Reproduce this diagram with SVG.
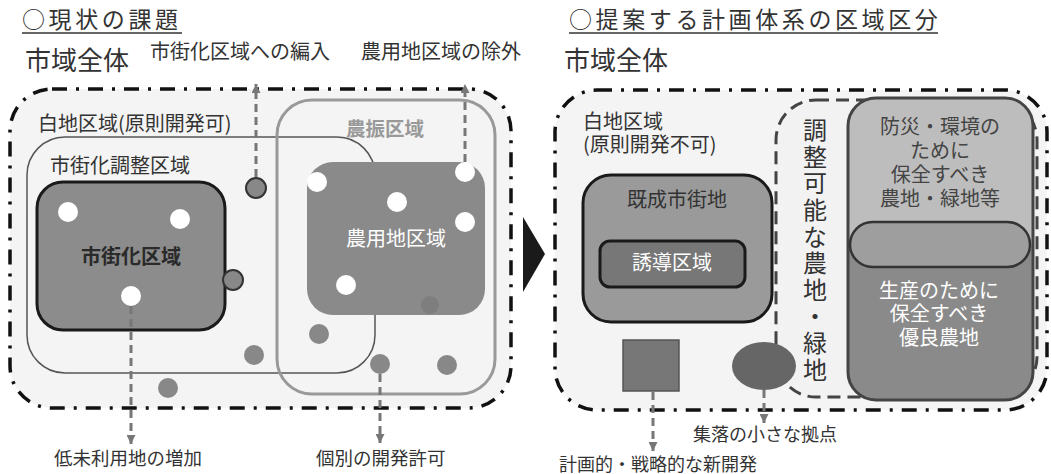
<svg xmlns="http://www.w3.org/2000/svg" width="1051" height="474" viewBox="0 0 1051 474">
<style>
text{font-family:"Noto Sans CJK JP","Noto Sans CJK SC",sans-serif;fill:#333}
.title{font-size:23px;letter-spacing:3.6px}
.big{font-size:26px}
.lbl{font-size:20px}
.sm{font-size:18.5px}
.mid{text-anchor:middle}
.wt{fill:#fff}
.outer{fill:#f4f4f4;stroke:#111;stroke-width:3.5;stroke-dasharray:15 9 3 9}
.conn{stroke:#777;stroke-width:3;stroke-dasharray:8 5;fill:none}
.wdot{fill:#fff}
.gdot{fill:#888}
.sdot{fill:#888;stroke:#333;stroke-width:2}
.ul{stroke:#333;stroke-width:1.5}
</style>
<defs>
<marker id="ah" viewBox="0 0 10 10" refX="10" refY="5" markerWidth="3.2" markerHeight="3" orient="auto" markerUnits="strokeWidth"><path d="M0,0 L10,5 L0,10 z" fill="#777"/></marker>
</defs>
<rect width="1051" height="474" fill="#fff"/>

<!-- LEFT PANEL -->
<g id="left-title"><text class="title" x="22" y="28">○現状の課題</text><line class="ul" x1="22" y1="33" x2="182" y2="33"/></g>
<g id="left-city">
<text class="big" x="25" y="70">市域全体</text>
<rect class="outer" x="10" y="89" width="501" height="319" rx="42"/>
</g>
<g id="shirochi-left"><text class="lbl" x="38" y="131">白地区域(原則開発可)</text></g>
<g id="chosei">
<rect x="27" y="137" width="348" height="236" rx="38" fill="none" stroke="#555" stroke-width="1.5"/>
<text class="lbl" x="50" y="173">市街化調整区域</text>
</g>
<g id="noshin">
<rect x="277" y="100" width="218" height="294" rx="35" fill="none" stroke="#999" stroke-width="3"/>
<text class="lbl" x="346" y="136" style="fill:#999;font-weight:bold;font-size:19.5px">農振区域</text>
</g>
<g id="shigaika">
<rect x="37" y="182" width="188" height="148" rx="26" fill="#8c8c8c" stroke="#1a1a1a" stroke-width="3"/>
<text class="lbl mid" x="131" y="264" style="font-weight:bold;fill:#2a2a2a">市街化区域</text>
<circle class="wdot" cx="68" cy="212" r="10"/>
<circle class="wdot" cx="180" cy="219" r="10"/>
<circle class="wdot" cx="131" cy="296" r="10"/>
</g>
<g id="noyochi">
<rect x="307" y="162" width="178" height="153" rx="26" fill="#8a8a8a"/>
<circle cx="430" cy="305" r="9" fill="#7e7e7e"/>
<text class="lbl mid wt" x="396" y="246">農用地区域</text>
<circle class="wdot" cx="317" cy="182" r="10"/>
<circle class="wdot" cx="397" cy="202" r="10"/>
<circle class="wdot" cx="465" cy="172" r="10"/>
<circle class="wdot" cx="465" cy="222" r="10"/>
<circle class="wdot" cx="346" cy="285" r="10"/>
</g>
<g id="left-dots">
<circle class="sdot" cx="233" cy="280" r="10"/>
<circle class="sdot" cx="256" cy="188" r="10"/>
<circle class="gdot" cx="319" cy="334" r="10"/>
<circle class="gdot" cx="254" cy="355" r="10"/>
<circle class="gdot" cx="168" cy="388" r="10"/>
<circle class="gdot" cx="380" cy="364" r="10"/>
<circle class="gdot" cx="447" cy="365" r="10"/>
</g>
<g id="left-labels">
<text class="lbl" x="150" y="59">市街化区域への編入</text>
<text class="lbl" x="361" y="59">農用地区域の除外</text>
<text class="sm" x="54" y="465">低未利用地の増加</text>
<text class="sm" x="316" y="465">個別の開発許可</text>
</g>

<g id="arrow-mid"><polygon points="523,217 545,254 523,292" fill="#1a1a1a"/></g>

<!-- RIGHT PANEL -->
<g id="right-title"><text class="title" x="569" y="28">○提案する計画体系の区域区分</text><line class="ul" x1="569" y1="33" x2="938" y2="33"/></g>
<g id="right-city">
<text class="big" x="564" y="70">市域全体</text>
<rect class="outer" x="555" y="90" width="492" height="320" rx="42"/>
</g>
<g id="shirochi-right">
<text class="lbl" x="583" y="129">白地区域</text>
<text class="lbl" x="583" y="152">(原則開発不可)</text>
</g>
<g id="kisei">
<rect x="583" y="175" width="189" height="147" rx="28" fill="#9a9a9a" stroke="#1a1a1a" stroke-width="3"/>
<text class="lbl mid" x="677" y="207">既成市街地</text>
</g>
<g id="yudo">
<rect x="600" y="241" width="145" height="46" rx="10" fill="#777" stroke="#1a1a1a" stroke-width="3"/>
<text class="lbl mid wt" x="672" y="270">誘導区域</text>
</g>
<g id="chosei-kanou">
<rect x="776" y="100" width="261" height="297" rx="40" fill="#f2f2f2" stroke="#444" stroke-width="3" stroke-dasharray="13 7"/>
<text x="815" y="118" writing-mode="vertical-rl" style="font-size:24px;letter-spacing:2.6px">調整可能な農地・緑地</text>
</g>
<g id="shinkaihatsu"><rect x="623" y="340" width="56" height="51" fill="#777" stroke="#555" stroke-width="1.5"/></g>
<g id="shuraku"><ellipse cx="764" cy="366" rx="32" ry="24" fill="#666"/></g>
<g id="hozen">
<rect x="848" y="98" width="185" height="302" rx="28" fill="#8a8a8a"/>
<path d="M848,245 V126 A28,28 0 0 1 876,98 H1005 A28,28 0 0 1 1033,126 V245 Z" fill="#bdbdbd"/>
<rect x="848" y="98" width="185" height="302" rx="28" fill="none" stroke="#444" stroke-width="3"/>
<rect x="850" y="222" width="180" height="45" rx="22.5" fill="#9e9e9e" stroke="#333" stroke-width="2.5"/>
<text class="lbl mid" x="940" y="134" style="fill:#444">防災・環境の</text>
<text class="lbl mid" x="940" y="158" style="fill:#444">ために</text>
<text class="lbl mid" x="940" y="182" style="fill:#444">保全すべき</text>
<text class="lbl mid" x="940" y="206" style="fill:#444">農地・緑地等</text>
<text class="lbl mid wt" x="939" y="298">生産のために</text>
<text class="lbl mid wt" x="939" y="321">保全すべき</text>
<text class="lbl mid wt" x="939" y="345">優良農地</text>
</g>
<g id="right-labels">
<text class="sm" x="693" y="441" style="font-size:18px">集落の小さな拠点</text>
<text class="sm" x="559" y="471" style="font-size:18px">計画的・戦略的な新開発</text>
</g>

<g id="connectors">
<line class="conn" x1="256" y1="177" x2="256" y2="84" marker-end="url(#ah)"/>
<line class="conn" x1="465" y1="162" x2="465" y2="84" marker-end="url(#ah)"/>
<line class="conn" x1="131" y1="306" x2="131" y2="444" marker-end="url(#ah)"/>
<line class="conn" x1="380" y1="374" x2="380" y2="443" marker-end="url(#ah)"/>
<line class="conn" x1="653" y1="392" x2="653" y2="451" marker-end="url(#ah)"/>
<line class="conn" x1="764" y1="390" x2="764" y2="423" marker-end="url(#ah)"/>
</g>
</svg>
